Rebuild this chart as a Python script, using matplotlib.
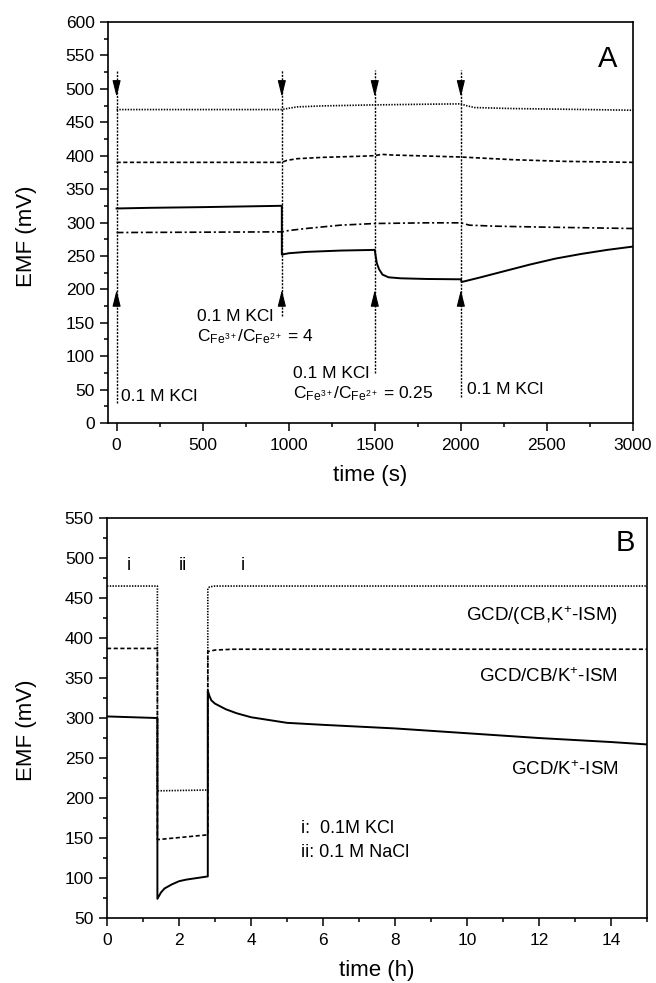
"""
Two-panel EMF response plot: redox step test (A) and long-term drift (B)
"""

import matplotlib
matplotlib.use("Agg")
import matplotlib.pyplot as plt
from matplotlib.ticker import MultipleLocator

plt.rcParams["font.family"] = ["Liberation Sans", "DejaVu Sans"]
plt.rcParams["mathtext.fontset"] = "custom"
plt.rcParams["mathtext.rm"] = "Liberation Sans"
plt.rcParams["mathtext.it"] = "Liberation Sans:italic"
plt.rcParams["lines.scale_dashes"] = False

# ---- panel A data (time in s, EMF in mV)
a_dot_t = [0, 960, 1000, 1050, 1200, 1500, 1800, 2000, 2030, 2080, 2300,
           2600, 3000]
a_dot_v = [469, 469, 471, 473, 474.5, 476, 477, 477.5, 475, 472, 470.5,
           469.5, 468]

a_dash_t = [0, 960, 990, 1050, 1200, 1400, 1500, 1540, 1600, 1800, 2000,
            2300, 2600, 3000]
a_dash_v = [390, 390, 393, 395.5, 397.5, 399, 400, 402, 401, 399.5, 398,
            394, 391.5, 390]

a_solid_t = [0, 200, 500, 960, 960, 1000, 1100, 1300, 1500, 1505, 1512,
             1525, 1545, 1580, 1650, 1800, 2000, 2005, 2100, 2250, 2400,
             2550, 2700, 2850, 3000]
a_solid_v = [321, 322, 323, 325, 252, 254, 256, 258, 259, 250, 239,
             230, 222, 218, 216.5, 215.5, 215, 211, 217, 227, 237,
             246, 253, 259, 264]

a_dashdot_t = [0, 960, 1000, 1100, 1300, 1500, 1800, 2000, 2050, 2200,
               2500, 3000]
a_dashdot_v = [285, 286, 288, 291, 296, 298.5, 299.5, 299.5, 296, 294.5,
               293, 291]

a_event_t = [0, 960, 1500, 2000]
a_event_bottom = [30, 160, 75, 39]
a_event_top = 528

a_notes = [
    (27, 33, "0.1 M KCl"),
    (467, 153, "0.1 M KCl"),
    (467, 122, r"$\mathregular{C_{Fe^{3+}}/C_{Fe^{2+}}}$ = 4"),
    (1025, 68, "0.1 M KCl"),
    (1025, 37, r"$\mathregular{C_{Fe^{3+}}/C_{Fe^{2+}}}$ = 0.25"),
    (2033, 44, "0.1 M KCl"),
]

# ---- panel B data (time in h, EMF in mV)
b_dot_t = [0, 1.4, 1.4, 2.8, 2.8, 2.85, 3.0, 15]
b_dot_v = [465, 465, 209, 210, 462, 464, 465, 465]

b_dash_t = [0, 1.4, 1.4, 2.8, 2.8, 3.0, 3.5, 15]
b_dash_v = [387, 387, 148, 154, 383, 385, 386, 386]

b_solid_t = [0, 1.4, 1.4, 1.5, 1.6, 1.8, 2.0, 2.2, 2.5, 2.8, 2.8, 2.85,
             2.9, 3.0, 3.3, 3.6, 4.0, 5.0, 6.0, 8.0, 10.0, 12.0, 14.0, 15.0]
b_solid_v = [302, 300, 74, 82, 87, 92, 96, 98, 100, 102, 334, 327,
             322, 318, 311, 306, 301, 294, 291.5, 287, 281, 275, 270, 267]

b_curve_names = ["GCD/(CB,K$^{+}$-ISM)", "GCD/CB/K$^{+}$-ISM",
                 "GCD/K$^{+}$-ISM"]
b_curve_name_v = [421, 345, 229]
b_phase_t = [0.6, 2.1, 3.77]
b_phase_names = ["i", "ii", "i"]
b_legend_lines = ["i:  0.1M KCl", "ii: 0.1 M NaCl"]
b_legend_v = [156, 126]

DOT = (1, 1)
DASH = (3, 1.8)
DASHDOT = (5, 2, 1.5, 2)


def style_axes(ax):
    """
    Common frame and tick styling
    """
    for sp in ax.spines.values():
        sp.set_linewidth(1.2)
    ax.tick_params(which="both", direction="out", top=False, right=False,
                   width=1.1, labelsize=12.5)
    ax.tick_params(which="major", length=6)
    ax.tick_params(which="minor", length=3)
    ax.tick_params(axis="x", pad=4.5)
    ax.tick_params(axis="y", pad=3.5)


def plot_panel_a(ax):
    """
    Panel A: response to redox changes
    """
    ax.plot(a_dot_t, a_dot_v, color="k", lw=1.2, dashes=DOT)
    ax.plot(a_dash_t, a_dash_v, color="k", lw=1.2, dashes=DASH)
    ax.plot(a_solid_t, a_solid_v, color="k", lw=1.4)
    ax.plot(a_dashdot_t, a_dashdot_v, color="k", lw=1.2, dashes=DASHDOT)

    head = "-|>,head_length=1.0,head_width=0.25"
    for t, bot in zip(a_event_t, a_event_bottom):
        ax.plot([t, t], [bot, a_event_top], color="k", lw=1.0,
                dashes=(1.5, 1))
        ax.annotate("", xy=(t, 488), xytext=(t, 512),
                    arrowprops=dict(arrowstyle=head, color="k", lw=0.8,
                                    shrinkA=0, shrinkB=0))
        ax.annotate("", xy=(t, 199), xytext=(t, 175),
                    arrowprops=dict(arrowstyle=head, color="k", lw=0.8,
                                    shrinkA=0, shrinkB=0))

    for x, y, s in a_notes:
        ax.text(x, y, s, fontsize=12.5, va="baseline", ha="left")

    ax.text(2855, 545, "A", fontsize=21, ha="center", va="center")

    ax.set_xlim(-50, 3000)
    ax.set_ylim(0, 600)
    ax.xaxis.set_major_locator(MultipleLocator(500))
    ax.xaxis.set_minor_locator(MultipleLocator(250))
    ax.yaxis.set_major_locator(MultipleLocator(50))
    ax.yaxis.set_minor_locator(MultipleLocator(25))
    style_axes(ax)
    ax.set_xlabel("time (s)", fontsize=16)
    ax.set_ylabel("EMF (mV)", fontsize=16)
    ax.xaxis.set_label_coords(0.5, -0.105)
    ax.yaxis.set_label_coords(-0.135, 0.466)


def plot_panel_b(ax):
    """
    Panel B: long-term stability and K+/Na+ switching
    """
    ax.plot(b_dot_t, b_dot_v, color="k", lw=1.2, dashes=DOT)
    ax.plot(b_dash_t, b_dash_v, color="k", lw=1.2, dashes=DASH)
    ax.plot(b_solid_t, b_solid_v, color="k", lw=1.4)

    for s, v in zip(b_curve_names, b_curve_name_v):
        ax.text(14.2, v, s, fontsize=13.5, ha="right", va="baseline")
    for t, s in zip(b_phase_t, b_phase_names):
        ax.text(t, 491, s, fontsize=13, ha="center", va="center")
    for s, v in zip(b_legend_lines, b_legend_v):
        ax.text(5.39, v, s, fontsize=13, ha="left", va="baseline")
    ax.text(14.4, 519, "B", fontsize=21, ha="center", va="center")

    ax.set_xlim(0, 15)
    ax.set_ylim(50, 550)
    ax.xaxis.set_major_locator(MultipleLocator(2))
    ax.xaxis.set_minor_locator(MultipleLocator(1))
    ax.yaxis.set_major_locator(MultipleLocator(50))
    ax.yaxis.set_minor_locator(MultipleLocator(25))
    style_axes(ax)
    ax.set_xlabel("time (h)", fontsize=16)
    ax.set_ylabel("EMF (mV)", fontsize=16)
    ax.xaxis.set_label_coords(0.5, -0.104)
    ax.yaxis.set_label_coords(-0.130, 0.47)


def main():
    """
    Builds both panels and saves the figure
    """
    fig = plt.figure(figsize=(6.56, 9.83), dpi=100)
    ax_a = fig.add_axes([0.1646, 0.5697, 0.8003, 0.4079])
    ax_b = fig.add_axes([0.1631, 0.0661, 0.8232, 0.4069])
    plot_panel_a(ax_a)
    plot_panel_b(ax_b)
    fig.savefig("out.png", dpi=100)


if __name__ == "__main__":
    main()
